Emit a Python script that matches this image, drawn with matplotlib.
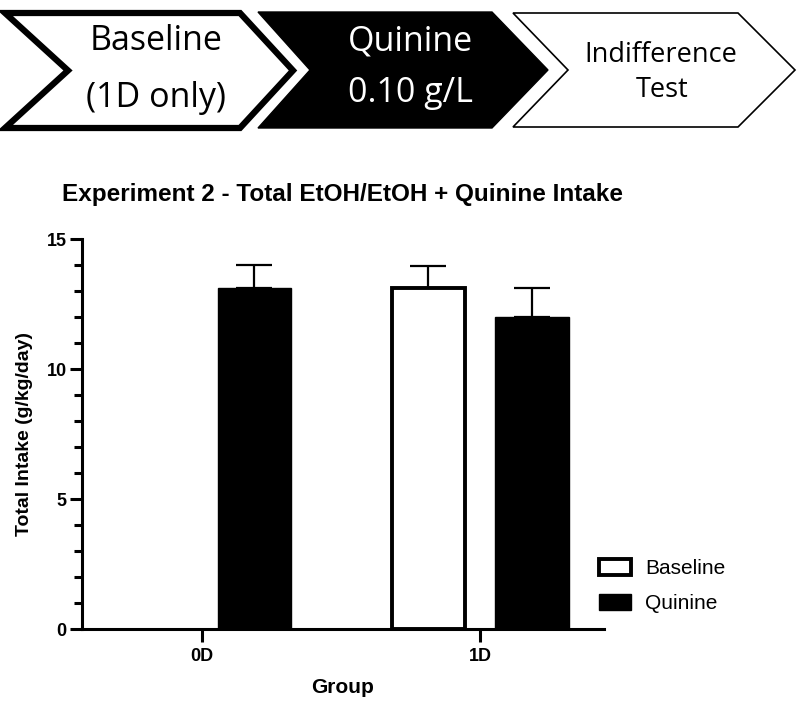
import matplotlib.pyplot as plt
from matplotlib.patches import Polygon, Patch
import numpy as np

# data
groups = ['0D', '1D']
baseline_vals = [np.nan, 13.1]
baseline_err = [0, 0.85]
quinine_vals = [13.1, 12.0]
quinine_err = [0.9, 1.1]

steps = [('Baseline\n(1D only)', 'white', 'black', 4.5),
         ('Quinine\n0.10 g/L', 'black', 'white', 1.0),
         ('Indifference\nTest', 'white', 'black', 1.2)]

W, H = 800, 703
fig = plt.figure(figsize=(W / 100, H / 100), dpi=100)

# chevron banner on top, drawn in pixel coordinates
top = fig.add_axes([0, 0, 1, 1])
top.set_xlim(0, W)
top.set_ylim(H, 0)
top.axis('off')

chev = [(5, 13, 128, 240, 293, 68),
        (258, 12, 128, 492, 548, 310),
        (513, 13, 127, 738, 795, 568)]
text_pos = [((156, 50), (156, 107), 24.5),
            ((410, 50), (411, 102), 24.5),
            ((661, 62), (662, 97), 19.5)]
for (label, fc, tc, lw), (x0, y0, y1, xr, xt, xn), (p1, p2, fs) in zip(steps, chev, text_pos):
    ym = (y0 + y1) / 2
    pts = [(x0, y0), (xr, y0), (xt, ym), (xr, y1), (x0, y1), (xn, ym)]
    top.add_patch(Polygon(pts, closed=True, facecolor=fc, edgecolor='black',
                          linewidth=lw, joinstyle='miter'))
    l1, l2 = label.split('\n')
    top.text(*p1, l1, color=tc, fontsize=fs, family='Open Sans',
             ha='center', va='baseline')
    top.text(*p2, l2, color=tc, fontsize=fs, family='Open Sans',
             ha='center', va='baseline')

# bar chart
ax = fig.add_axes([82 / W, 1 - 629 / H, (604 - 82) / W, (629 - 239) / H])
x = np.arange(len(groups))
width = 0.263
off = 0.187
ax.bar(x - off, baseline_vals, width, color='white', edgecolor='black',
       linewidth=2.8, label='Baseline', zorder=2)
ax.errorbar(x - off, baseline_vals, yerr=[np.zeros(2), baseline_err], fmt='none',
            ecolor='black', elinewidth=1.6, capsize=13, capthick=1.6, zorder=1)
ax.bar(x + off, quinine_vals, width, color='black', edgecolor='black',
       linewidth=1, label='Quinine', zorder=2)
ax.errorbar(x + off, quinine_vals, yerr=[np.zeros(2), quinine_err], fmt='none',
            ecolor='black', elinewidth=1.6, capsize=13, capthick=1.6, zorder=1)

ax.set_xlim(-0.432, 1.446)
ax.set_ylim(0, 15)
ax.set_yticks([0, 5, 10, 15])
ax.set_yticks(np.arange(0, 16, 1), minor=True)
ax.set_xticks(x)
ax.set_xticklabels(groups)
for s in ['top', 'right']:
    ax.spines[s].set_visible(False)
for s in ['left', 'bottom']:
    ax.spines[s].set_linewidth(2.2)
ax.tick_params(axis='both', which='major', width=2.2, length=9,
               labelsize=13, pad=2)
ax.tick_params(axis='x', which='major', pad=5)
ax.tick_params(axis='y', which='minor', width=2.2, length=5.5)
ax.tick_params(axis='x', which='minor', bottom=False)
for t in ax.get_xticklabels() + ax.get_yticklabels():
    t.set_fontweight('bold')
    t.set_family('Liberation Sans')

ax.set_title('Experiment 2 - Total EtOH/EtOH + Quinine Intake',
             fontsize=17.5, fontweight='bold', family='Liberation Sans', pad=27)
ax.set_ylabel('Total Intake (g/kg/day)', fontsize=14, fontweight='bold',
              family='Liberation Sans', labelpad=10)
ax.set_xlabel('Group', fontsize=15, fontweight='bold',
              family='Liberation Sans', labelpad=9)

handles = [Patch(facecolor='white', edgecolor='black', linewidth=2.8),
           Patch(facecolor='black', edgecolor='black')]
fig.legend(handles, ['Baseline', 'Quinine'], loc='upper left',
           bbox_to_anchor=(599 / W, 1 - 559 / H), frameon=False,
           prop={'family': 'Liberation Sans', 'size': 15},
           handlelength=1.54, handleheight=0.82, labelspacing=0.75,
           handletextpad=0.67, borderpad=0, borderaxespad=0)

fig.savefig('out.png', dpi=100)
